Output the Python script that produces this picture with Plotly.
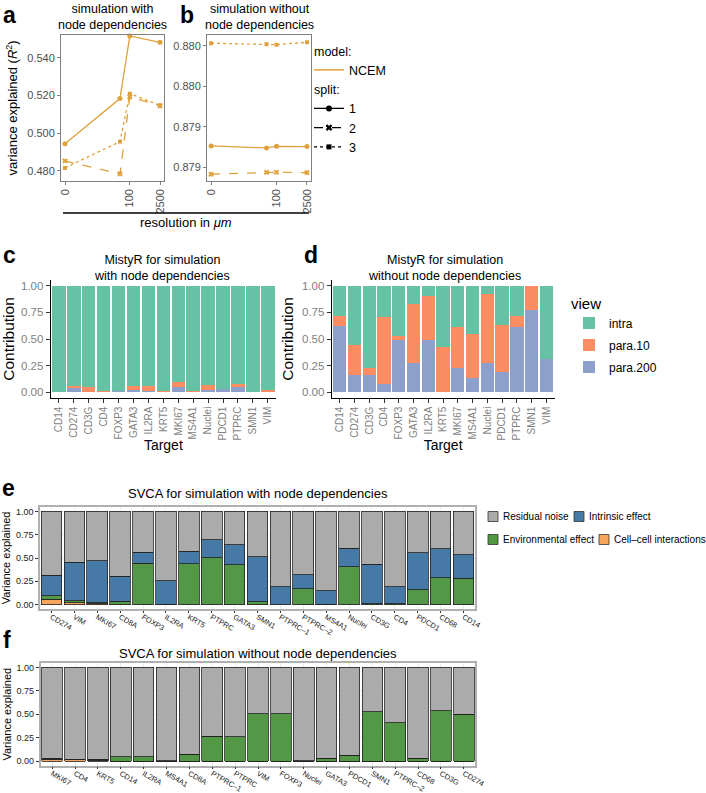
import numpy as np
import plotly.graph_objects as go

W, H = 706, 793
def px(x): return x / W
def py(y): return 1 - y / H

FONT = "Liberation Sans"

# ---------------- data: panels a / b ----------------
resolution = [0, 35, 100, 2500]
res_ticks = [0, 100, 2500]
a_split1 = [0.4943, 0.5184, 0.5517, 0.5483]
a_split2 = [0.4852, 0.4783, 0.5193, 0.5145]
a_split3 = [0.4815, 0.4955, 0.5210, 0.5148]
b_split1 = [0.879381, 0.879369, 0.879379, 0.879377]
b_split2 = [0.879206, 0.879218, 0.879218, 0.879216]
b_split3 = [0.880017, 0.880011, 0.880008, 0.880023]
a_yticks = [0.480, 0.500, 0.520, 0.540]
b_yticks = [0.87925, 0.8795, 0.87975, 0.8800]
b_yticklabels = ["0.879", "0.879", "0.880", "0.880"]

# ---------------- data: panels c / d (MistyR) ----------------
targets = ["CD14", "CD274", "CD3G", "CD4", "FOXP3", "GATA3", "IL2RA", "KRT5",
           "MKI67", "MS4A1", "Nuclei", "PDCD1", "PTPRC", "SMN1", "VIM"]
c_para200 = [0.003, 0.040, 0.005, 0.005, 0.010, 0.020, 0.010, 0.005, 0.050, 0.005, 0.025, 0.030, 0.050, 0.005, 0.005]
c_para10  = [0.002, 0.015, 0.040, 0.010, 0.005, 0.040, 0.045, 0.010, 0.045, 0.010, 0.045, 0.005, 0.030, 0.000, 0.020]
c_intra   = [0.995, 0.945, 0.955, 0.985, 0.985, 0.940, 0.945, 0.985, 0.905, 0.985, 0.930, 0.965, 0.920, 0.995, 0.975]
d_para200 = [0.620, 0.163, 0.163, 0.081, 0.490, 0.272, 0.490, 0.006, 0.225, 0.134, 0.272, 0.190, 0.616, 0.772, 0.313]
d_para10  = [0.096, 0.281, 0.068, 0.628, 0.038, 0.556, 0.413, 0.422, 0.391, 0.413, 0.647, 0.441, 0.100, 0.228, 0.000]
d_intra   = [0.284, 0.556, 0.769, 0.291, 0.472, 0.172, 0.097, 0.572, 0.384, 0.453, 0.081, 0.369, 0.284, 0.000, 0.687]
contrib_ticks = [0, 0.25, 0.5, 0.75, 1.0]

# ---------------- data: panels e / f (SVCA) ----------------
e_genes = ["CD274", "VIM", "MKI67", "CD8A", "FOXP3", "IL2RA", "KRT5", "PTPRC", "GATA3", "SMN1",
           "PTPRC–1", "PTPRC–2", "MS4A1", "Nuclei", "CD3G", "CD4", "PDCD1", "CD68", "CD14"]
e_cell  = [0.060, 0.020, 0.010, 0, 0, 0, 0, 0, 0, 0, 0, 0, 0, 0, 0, 0, 0, 0, 0]
e_env   = [0.033, 0.020, 0.012, 0.036, 0.446, 0.003, 0.440, 0.504, 0.429, 0.032,
           0.000, 0.168, 0.005, 0.407, 0.010, 0.010, 0.161, 0.289, 0.282]
e_intr  = [0.221, 0.417, 0.449, 0.271, 0.115, 0.254, 0.131, 0.192, 0.214, 0.482,
           0.193, 0.150, 0.145, 0.200, 0.422, 0.183, 0.393, 0.311, 0.254]
e_resid = [0.686, 0.543, 0.529, 0.693, 0.439, 0.743, 0.429, 0.304, 0.357, 0.486,
           0.807, 0.682, 0.850, 0.393, 0.568, 0.807, 0.446, 0.400, 0.464]
f_genes = ["MKI67", "CD4", "KRT5", "CD14", "IL2RA", "MS4A1", "CD8A", "PTPRC–1", "PTPRC", "VIM",
           "FOXP3", "Nuclei", "GATA3", "PDCD1", "SMN1", "PTPRC–2", "CD68", "CD3G", "CD274"]
f_cell  = [0.020, 0.012, 0.010, 0, 0, 0, 0, 0, 0, 0, 0, 0, 0, 0, 0, 0, 0, 0, 0]
f_env   = [0.005, 0.005, 0.004, 0.043, 0.043, 0.003, 0.071, 0.264, 0.261, 0.504,
           0.504, 0.002, 0.032, 0.061, 0.525, 0.411, 0.029, 0.536, 0.500]
f_intr  = [0.005, 0.004, 0.004, 0, 0, 0, 0, 0, 0, 0, 0, 0, 0, 0, 0, 0, 0, 0, 0]
f_resid = [0.970, 0.979, 0.982, 0.957, 0.957, 0.997, 0.929, 0.736, 0.739, 0.496,
           0.496, 0.998, 0.968, 0.939, 0.475, 0.589, 0.971, 0.464, 0.500]
var_ticks = [0, 0.25, 0.5, 0.75, 1.0]

# ---------------- styles ----------------
GOLD = "#DFA13B"
C_INTRA, C_P10, C_P200 = "#66C2A5", "#FC8D62", "#8DA0CB"
C_RES, C_INT, C_ENV, C_CELL = "#ABABAB", "#4779A6", "#529847", "#F7A55C"

def tr(v):
    return np.log10(np.asarray(v, dtype=float) + 0.1)

fig = go.Figure()

split_styles = [("1", "solid", "circle", 5), ("2", "dash", "x", 5), ("3", "dot", "square", 4)]

for (name, dash, sym, ms), ya, yb in zip(split_styles, [a_split1, a_split2, a_split3],
                                        [b_split1, b_split2, b_split3]):
    for xa, yax, yv in (("x", "y", ya), ("x2", "y2", yb)):
        fig.add_trace(go.Scatter(
            x=tr(resolution), y=yv, xaxis=xa, yaxis=yax, mode="lines+markers",
            line=dict(color=GOLD, width=1.3, dash=dash),
            marker=dict(symbol=sym, size=ms, color=GOLD),
            showlegend=False, hoverinfo="x+y", cliponaxis=False))

# legend entries for a/b
fig.add_trace(go.Scatter(x=[None], y=[None], xaxis="x", yaxis="y", mode="lines",
                         line=dict(color=GOLD, width=1.5), name="NCEM",
                         legendgroup="model", legendgrouptitle=dict(text="model:"),
                         legend="legend"))
for name, dash, sym, ms in split_styles:
    fig.add_trace(go.Scatter(x=[None], y=[None], xaxis="x", yaxis="y", mode="lines+markers",
                             line=dict(color="black", width=1.3, dash=dash),
                             marker=dict(symbol=sym, size=ms + 1, color="black"),
                             name=name, legendgroup="split",
                             legendgrouptitle=dict(text="split:"), legend="legend"))

# MistyR bars
view_names = ["para.200", "para.10", "intra"]
view_rank = {"intra": 1, "para.10": 2, "para.200": 3}
for xa, yax, vals, show in (("x3", "y3", (c_para200, c_para10, c_intra), False),
                             ("x4", "y4", (d_para200, d_para10, d_intra), True)):
    for nm, col, v in zip(view_names, [C_P200, C_P10, C_INTRA], vals):
        fig.add_trace(go.Bar(x=targets, y=v, xaxis=xa, yaxis=yax, name=nm,
                             marker=dict(color=col, line=dict(width=0)), width=0.9,
                             showlegend=show, legend="legend2", legendgroup=nm,
                             legendrank=view_rank[nm]))

# SVCA bars
svca_names = ["Cell–cell interactions", "Environmental effect", "Intrinsic effect", "Residual noise"]
svca_cols = [C_CELL, C_ENV, C_INT, C_RES]
for xa, yax, genes, vals in (("x5", "y5", e_genes, (e_cell, e_env, e_intr, e_resid)),
                              ("x6", "y6", f_genes, (f_cell, f_env, f_intr, f_resid))):
    for nm, col, v in zip(svca_names, svca_cols, vals):
        fig.add_trace(go.Bar(x=genes, y=v, xaxis=xa, yaxis=yax, name=nm,
                             marker=dict(color=col, line=dict(width=0.8, color="#222222")),
                             width=0.9, showlegend=False))

# ---------------- axes ----------------
xr = [float(tr(0)) - 0.185, float(tr(2500)) + 0.185]
frame_ab = dict(showline=True, mirror=True, linecolor="#808080", linewidth=1,
                ticks="outside", ticklen=3, tickcolor="#808080",
                tickfont=dict(size=11, color="#4D4D4D"), showgrid=False, zeroline=False)
ydom_ab = [py(180.7), py(35)]
fig.update_layout(
    xaxis=dict(domain=[px(61), px(164)], anchor="y", range=xr, tickmode="array",
               tickvals=tr(res_ticks), ticktext=[str(t) for t in res_ticks], tickangle=-90,
               **frame_ab),
    yaxis=dict(domain=ydom_ab, anchor="x", range=[0.4747, 0.5522], tickmode="array",
               tickvals=a_yticks, ticktext=[f"{t:.3f}" for t in a_yticks],
               title=dict(text="variance explained (<i>R</i><sup>2</sup>)",
                          font=dict(size=13, color="black"), standoff=6),
               **frame_ab),
    xaxis2=dict(domain=[px(207), px(311)], anchor="y2", range=xr, tickmode="array",
                tickvals=tr(res_ticks), ticktext=[str(t) for t in res_ticks], tickangle=-90,
                **frame_ab),
    yaxis2=dict(domain=ydom_ab, anchor="x2", range=[0.879166, 0.880068], tickmode="array",
                tickvals=b_yticks, ticktext=b_yticklabels, **frame_ab),
)

mist_x = dict(showline=True, linecolor="black", linewidth=1, ticks="outside", ticklen=4,
              tickcolor="#333333", tickangle=-90, tickfont=dict(size=10, color="#7F7F7F"),
              showgrid=False, zeroline=False, range=[-0.55, 14.55], categoryorder="array",
              categoryarray=targets, tickmode="array", tickvals=targets, ticktext=targets,
              title=dict(text="Target", font=dict(size=14, color="black"), standoff=0))
mist_y = dict(showline=True, linecolor="black", linewidth=1, ticks="outside", ticklen=4,
              tickcolor="#333333", tickfont=dict(size=11.5, color="#7F7F7F"),
              showgrid=False, zeroline=False, range=[-0.05, 1.05], tickmode="array",
              tickvals=contrib_ticks, ticktext=[f"{t:.2f}" for t in contrib_ticks],
              title=dict(text="Contribution", font=dict(size=15.5, color="black"), standoff=4))
ydom_cd = [py(397.6), py(280.4)]
fig.update_layout(
    xaxis3=dict(domain=[px(50.7), px(276)], anchor="y3", **mist_x),
    yaxis3=dict(domain=ydom_cd, anchor="x3", **mist_y),
    xaxis4=dict(domain=[px(331.7), px(554.5)], anchor="y4", **mist_x),
    yaxis4=dict(domain=ydom_cd, anchor="x4", **mist_y),
)

sv_x = dict(showline=True, mirror=True, linecolor="#B0B0B0", linewidth=1.5, ticks="outside",
            ticklen=2, tickcolor="#333333", tickangle=30, ticklabelstandoff=-3,
            tickfont=dict(size=7.5, color="#222222"), showgrid=True, gridcolor="#EBEBEB",
            zeroline=False, range=[-0.5, 18.5])
sv_y = dict(showline=True, mirror=True, linecolor="#B0B0B0", linewidth=1.5, ticks="outside",
            ticklen=3, tickcolor="#333333", tickfont=dict(size=9, color="#222222"),
            showgrid=True, gridcolor="#EBEBEB", zeroline=False, range=[-0.05, 1.05],
            tickmode="array", tickvals=var_ticks, ticktext=[f"{t:.2f}" for t in var_ticks],
            minor=dict(showgrid=True, gridcolor="#F4F4F4", dtick=0.125, tick0=0.125),
            title=dict(text="Variance explained", font=dict(size=11, color="black"), standoff=3))
fig.update_layout(
    xaxis5=dict(domain=[px(40), px(475)], anchor="y5", categoryorder="array",
                categoryarray=e_genes, tickmode="array", tickvals=e_genes, ticktext=e_genes, **sv_x),
    yaxis5=dict(domain=[py(609.3), py(506.7)], anchor="x5", **sv_y),
    xaxis6=dict(domain=[px(40.7), px(475.3)], anchor="y6", categoryorder="array",
                categoryarray=f_genes, tickmode="array", tickvals=f_genes, ticktext=f_genes, **sv_x),
    yaxis6=dict(domain=[py(765.7), py(662.7)], anchor="x6", **sv_y),
)

# ---------------- legends ----------------
fig.update_layout(
    legend=dict(x=px(309), y=py(36), xanchor="left", yanchor="top", bgcolor="rgba(0,0,0,0)",
                font=dict(size=12.5, color="black"), tracegroupgap=0, itemwidth=30,
                traceorder="grouped", grouptitlefont=dict(size=12.5, color="black")),
    legend2=dict(x=px(569), y=py(289), xanchor="left", yanchor="top", traceorder="grouped",
                 title=dict(text="view", font=dict(size=15, color="black")),
                 font=dict(size=12, color="black"), bgcolor="rgba(0,0,0,0)", itemwidth=30,
                 tracegroupgap=3),
)

# ---------------- annotations ----------------
ann = []
shapes = []
def text(x, y, s, size, bold=False, xanchor="center", yanchor="middle", color="black"):
    ann.append(dict(x=px(x), y=py(y), xref="paper", yref="paper", text=f"<b>{s}</b>" if bold else s,
                    showarrow=False, xanchor=xanchor, yanchor=yanchor,
                    font=dict(size=size, color=color, family=FONT)))

text(1, 0, "a", 23, bold=True, xanchor="left", yanchor="top")
text(178, 0, "b", 23, bold=True, xanchor="left", yanchor="top")
text(1, 240, "c", 23, bold=True, xanchor="left", yanchor="top")
text(302, 240, "d", 23, bold=True, xanchor="left", yanchor="top")
text(0, 473, "e", 23, bold=True, xanchor="left", yanchor="top")
text(1, 625, "f", 23, bold=True, xanchor="left", yanchor="top")
text(112, 0, "simulation with<br>node dependencies", 12.5, yanchor="top")
text(259, 0, "simulation without<br>node dependencies", 12.5, yanchor="top")
text(186, 223, "resolution in <i>μm</i>", 13)
text(162, 268, "MistyR for simulation<br>with node dependencies", 12.5)
text(444, 268, "MistyR for simulation<br>without node dependencies", 12.5)
text(258, 493, "SVCA for simulation with node dependencies", 13)
text(258, 653, "SVCA for simulation without node dependencies", 13)

# legend for SVCA panels (key boxes + labels)
svca_key = [("Residual noise", C_RES, 488, 516.5), ("Intrinsic effect", C_INT, 574, 516.5),
            ("Environmental effect", C_ENV, 488, 539.5), ("Cell–cell interactions", C_CELL, 599, 539.5)]
for lab, col, kx, ky in svca_key:
    shapes.append(dict(type="rect", xref="paper", yref="paper", x0=px(kx), x1=px(kx + 10),
                       y0=py(ky + 5), y1=py(ky - 5), fillcolor=col,
                       line=dict(color="#333333", width=0.8)))
    text(kx + 13, ky, lab, 10, xanchor="left")

shapes.append(dict(type="line", xref="paper", yref="paper", x0=px(63), x1=px(309),
                   y0=py(213), y1=py(213), line=dict(color="black", width=1.5)))

fig.update_layout(
    width=W, height=H, margin=dict(l=0, r=0, t=0, b=0, autoexpand=False),
    paper_bgcolor="white", plot_bgcolor="white", barmode="stack",
    font=dict(family=FONT, color="black"), annotations=ann, shapes=shapes,
)

fig.write_html("out.html", config={"displayModeBar": False},
               post_script="document.body.style.margin='0px';document.body.style.overflow='hidden';")
